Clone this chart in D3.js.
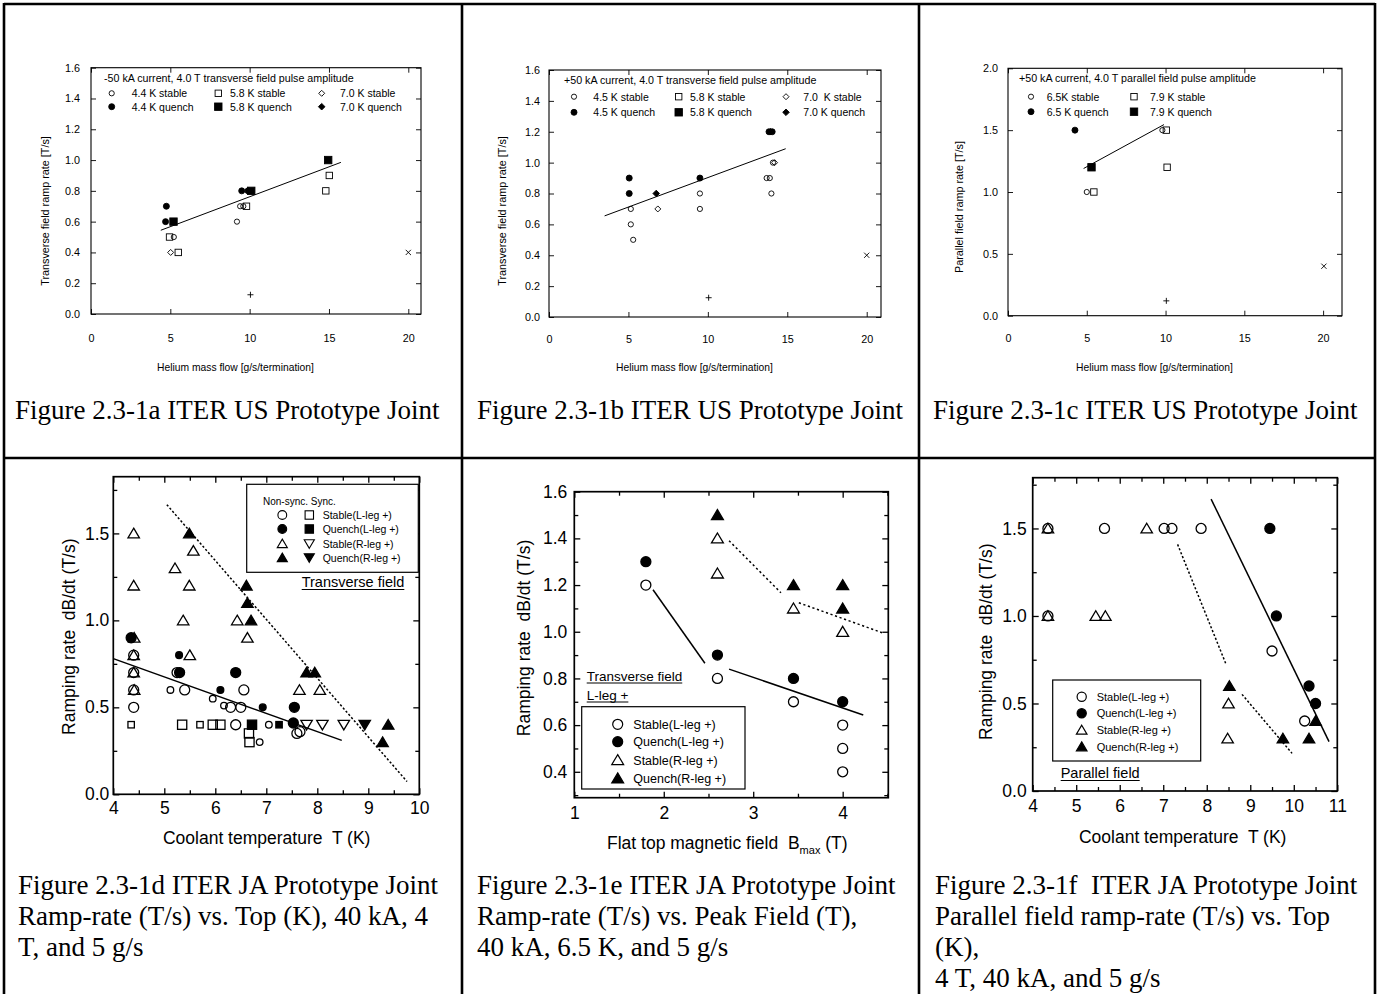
<!DOCTYPE html>
<html><head><meta charset="utf-8">
<script src="https://cdn.jsdelivr.net/npm/d3@7"></script>
<style>body{margin:0;background:#fff}svg{display:block}text{white-space:pre}</style>
</head><body>
<script>
// ================= DATA =================
// Panel a : ITER US, -50 kA, transverse
const aXTicks=[0,5,10,15,20];
const aYTicks=[0,0.2,0.4,0.6,0.8,1.0,1.2,1.4,1.6];
const aLegendTitle="-50 kA current, 4.0 T transverse field pulse amplitude";
const aLegendLabels=["4.4 K stable","5.8 K stable","7.0 K stable","4.4 K quench","5.8 K quench","7.0 K quench"];
const aStable44=[[5.22,0.5],[9.2,0.6],[9.4,0.7],[9.6,0.7]];
const aQuench44=[[4.75,0.7],[4.7,0.6],[9.5,0.8],[9.9,0.8]];
const aStable58=[[4.95,0.5],[5.5,0.4],[9.8,0.7],[14.8,0.8],[15.02,0.9]];
const aQuench58=[[5.2,0.6],[10.1,0.8],[14.95,1.0]];
const aStable70=[[5.02,0.4]];
const aQuench70=[];
const aFit=[[4.4,0.544],[15.75,0.985]];
const aPlus=[[10.05,0.125]];
const aCross=[[20,0.4]];

// Panel b : ITER US, +50 kA, transverse
const bXTicks=[0,5,10,15,20];
const bYTicks=[0,0.2,0.4,0.6,0.8,1.0,1.2,1.4,1.6];
const bLegendTitle="+50 kA current, 4.0 T transverse field pulse amplitude";
const bLegendLabels=["4.5 K stable","5.8 K stable","7.0  K stable","4.5 K quench","5.8 K quench","7.0 K quench"];
const bStable45=[[5.15,0.7],[5.15,0.6],[5.3,0.5],[9.5,0.8],[9.5,0.7],[13.7,0.9],[13.9,0.9],[14.0,0.8],[14.1,1.0]];
const bQuench45=[[5.05,0.9],[5.05,0.8],[9.5,0.9],[13.85,1.2],[14.05,1.2]];
const bStable70=[[6.85,0.7],[14.2,1.0]];
const bQuench70=[[6.75,0.8],[13.95,1.2]];
const bFit=[[3.5,0.655],[14.9,1.09]];
const bPlus=[[10.05,0.125]];
const bCross=[[20,0.4]];

// Panel c : ITER US, +50 kA, parallel
const cXTicks=[0,5,10,15,20];
const cYTicks=[0,0.5,1.0,1.5,2.0];
const cLegendTitle="+50 kA current, 4.0 T parallel field pulse amplitude";
const cLegendLabels=["6.5K stable","7.9 K stable","6.5 K quench","7.9 K quench"];
const cStable65=[[5.0,1.0],[9.8,1.5]];
const cQuench65=[[4.25,1.5]];
const cStable79=[[5.45,1.0],[10.05,1.5],[10.1,1.2]];
const cQuench79=[[5.3,1.2]];
const cFit=[[4.8,1.19],[9.9,1.545]];
const cPlus=[[10.05,0.12]];
const cCross=[[20.05,0.4]];

// Panel d : ITER JA, transverse, ramp rate vs coolant temperature
const dXTicks=[4,5,6,7,8,9,10];
const dXMinor=[4.5,5.5,6.5,7.5,8.5,9.5];
const dYTicks=[0,0.5,1.0,1.5];
const dYMinor=[0.25,0.75,1.25,1.75];
const dLegendHead="Non-sync. Sync.";
const dLegendLabels=["Stable(L-leg +)","Quench(L-leg +)","Stable(R-leg +)","Quench(R-leg +)"];
const dStableL=[[4.4,0.8],[4.4,0.7],[4.4,0.6],[4.4,0.5],[5.25,0.7],[5.4,0.6],[6.3,0.5],[6.5,0.5],[6.56,0.6],[6.4,0.4],[7.6,0.35],[7.66,0.36]];
const dStableLSmall=[[5.12,0.6],[5.95,0.55],[6.17,0.51],[7.05,0.4],[6.87,0.3]];
const dQuenchL=[[4.35,0.9],[5.3,0.7],[6.4,0.7],[7.55,0.5],[7.53,0.41]];
const dQuenchLSmall=[[5.29,0.8],[6.1,0.6],[6.93,0.5]];
const dStableLSync=[[5.35,0.4],[5.95,0.4],[6.1,0.4],[6.66,0.35],[6.67,0.3]];
const dStableLSyncSmall=[[4.35,0.4],[5.7,0.4]];
const dQuenchLSync=[[6.72,0.4]];
const dQuenchLSyncSmall=[[7.25,0.4]];
const dStableR=[[4.4,1.5],[4.4,1.2],[4.41,0.9],[4.4,0.8],[4.4,0.7],[4.41,0.6],[5.21,1.3],[5.57,1.4],[5.49,1.2],[5.37,1.0],[5.5,0.8],[6.43,1.0],[6.63,0.9],[7.65,0.6],[8.05,0.6]];
const dQuenchR=[[5.49,1.5],[6.61,1.2],[6.63,1.1],[6.7,1.0],[7.79,0.7],[7.95,0.7],[9.28,0.3],[9.39,0.4]];
const dStableRSync=[[7.79,0.4],[8.1,0.4],[8.52,0.4]];
const dQuenchRSync=[[8.93,0.4]];
const dFitSolid=[[4.0,0.78],[8.48,0.31]];
const dFitDotted=[[5.05,1.665],[9.76,0.073]];

// Panel e : ITER JA, ramp rate vs flat top field
const eXTicks=[1,2,3,4];
const eXMinor=[1.5,2.5,3.5,4.5];
const eYTicks=[0.4,0.6,0.8,1.0,1.2,1.4,1.6];
const eYMinor=[0.3,0.5,0.7,0.9,1.1,1.3,1.5];
const eLegendLabels=["Stable(L-leg +)","Quench(L-leg +)","Stable(R-leg +)","Quench(R-leg +)"];
const eStableL=[[1.8,1.2],[2.6,0.8],[3.45,0.7],[4.0,0.6],[4.0,0.5],[4.0,0.4]];
const eQuenchL=[[1.8,1.3],[2.6,0.9],[3.45,0.8],[4.0,0.7]];
const eStableR=[[2.6,1.4],[2.6,1.25],[3.45,1.1],[4.0,1.0]];
const eQuenchR=[[2.6,1.5],[3.45,1.2],[4.0,1.2],[4.0,1.1]];
const eSolid1=[[1.88,1.18],[2.46,0.865]];
const eSolid2=[[2.73,0.84],[4.23,0.643]];
const eDot1=[[2.73,1.39],[3.31,1.167]];
const eDot2=[[3.51,1.124],[4.44,0.996]];

// Panel f : ITER JA, parallel field, ramp rate vs coolant temperature
const fXTicks=[4,5,6,7,8,9,10,11];
const fXMinor=[4.5,5.5,6.5,7.5,8.5,9.5,10.5];
const fYTicks=[0,0.5,1.0,1.5];
const fYMinor=[0.25,0.75,1.25,1.75];
const fLegendLabels=["Stable(L-leg +)","Quench(L-leg +)","Stable(R-leg +)","Quench(R-leg +)"];
const fStableL=[[4.35,1.5],[4.35,1.0],[5.65,1.5],[7.02,1.5],[7.2,1.5],[7.87,1.5],[9.5,0.8],[10.25,0.4]];
const fQuenchL=[[9.45,1.5],[9.6,1.0],[10.35,0.6],[10.5,0.5]];
const fStableR=[[4.35,1.5],[4.35,1.0],[5.45,1.0],[5.67,1.0],[6.62,1.5],[8.5,0.5],[8.48,0.3]];
const fQuenchR=[[8.52,0.6],[9.75,0.3],[10.35,0.3],[10.5,0.4]];
const fSolid=[[8.1,1.668],[10.81,0.282]];
const fDot1=[[7.33,1.409],[8.45,0.72]];
const fDot2=[[8.81,0.552],[9.96,0.215]];

const captions={
  a:["Figure 2.3-1a ITER US Prototype Joint"],
  b:["Figure 2.3-1b ITER US Prototype Joint"],
  c:["Figure 2.3-1c ITER US Prototype Joint"],
  d:["Figure 2.3-1d ITER JA Prototype Joint","Ramp-rate (T/s) vs. Top (K), 40 kA, 4","T, and 5 g/s"],
  e:["Figure 2.3-1e ITER JA Prototype Joint","Ramp-rate (T/s) vs. Peak Field (T),","40 kA, 6.5 K, and 5 g/s"],
  f:["Figure 2.3-1f  ITER JA Prototype Joint","Parallel field ramp-rate (T/s) vs. Top","(K),","4 T, 40 kA, and 5 g/s"]
};

// ================= DRAWING =================
const W=1379,H=994;
const SANS="'Liberation Sans', Arial, sans-serif";
const SERIF="'Liberation Serif', 'Times New Roman', serif";
const svg=d3.select("body").append("svg").attr("width",W).attr("height",H);
svg.append("rect").attr("width",W).attr("height",H).attr("fill","#fff");

function marker(g,shape,filled,s,x,y,sw){
  let el;
  if(shape==="circle") el=g.append("circle").attr("cx",x).attr("cy",y).attr("r",s);
  else if(shape==="square") el=g.append("rect").attr("x",x-s).attr("y",y-s).attr("width",2*s).attr("height",2*s);
  else if(shape==="diamond") el=g.append("path").attr("d",`M${x},${y-s}L${x+s},${y}L${x},${y+s}L${x-s},${y}Z`);
  else if(shape==="tri") el=g.append("path").attr("d",`M${x},${y-s}L${x+s*1.1},${y+s*0.85}L${x-s*1.1},${y+s*0.85}Z`);
  else if(shape==="itri") el=g.append("path").attr("d",`M${x},${y+s}L${x+s*1.1},${y-s*0.85}L${x-s*1.1},${y-s*0.85}Z`);
  else if(shape==="plus") el=g.append("path").attr("d",`M${x-s},${y}H${x+s}M${x},${y-s}V${y+s}`);
  else if(shape==="cross") el=g.append("path").attr("d",`M${x-s},${y-s}L${x+s},${y+s}M${x-s},${y+s}L${x+s},${y-s}`);
  el.attr("fill",filled?"#000":"none").attr("stroke","#000").attr("stroke-width",sw);
  return el;
}
function series(g,x,y,data,shape,filled,s,sw){
  data.forEach(d=>marker(g,shape,filled,s,x(d[0]),y(d[1]),sw));
}
function fitLine(g,x,y,data,sw,dash){
  const l=d3.line().x(d=>x(d[0])).y(d=>y(d[1]));
  const p=g.append("path").attr("d",l(data)).attr("fill","none").attr("stroke","#000").attr("stroke-width",sw);
  if(dash) p.attr("stroke-dasharray",dash);
}
function axes(g,x,y,c){
  const [L,R]=x.range(); const [B,T]=y.range();
  const mk=(axis,tx,ty,vals,size,fmt,pad)=>{
    const a=axis.tickValues(vals).tickSize(-size).tickPadding(pad).tickFormat(fmt||(()=>""));
    const gg=g.append("g").attr("transform",`translate(${tx},${ty})`).call(a);
    gg.select(".domain").remove();
    gg.attr("font-family",SANS).attr("font-size",c.fs);
    gg.selectAll("line").attr("stroke","#000").attr("stroke-width",c.tsw);
    gg.selectAll("text").attr("fill","#000");
  };
  mk(d3.axisBottom(x),0,B,c.xMajor,c.tl,c.xFmt,c.padX);
  mk(d3.axisTop(x),0,T,c.xMajor,c.tl,null,0);
  mk(d3.axisLeft(y),L,0,c.yMajor,c.tl,c.yFmt,c.padY);
  mk(d3.axisRight(y),R,0,c.yMajor,c.tl,null,0);
  if(c.xMinor){mk(d3.axisBottom(x),0,B,c.xMinor,c.tlm,null,0);mk(d3.axisTop(x),0,T,c.xMinor,c.tlm,null,0);}
  if(c.yMinor){mk(d3.axisLeft(y),L,0,c.yMinor,c.tlm,null,0);mk(d3.axisRight(y),R,0,c.yMinor,c.tlm,null,0);}
  g.append("rect").attr("x",L).attr("y",T).attr("width",R-L).attr("height",B-T)
    .attr("fill","none").attr("stroke","#000").attr("stroke-width",c.fsw);
}
function txt(g,s,x,y,fs,opts={}){
  const t=g.append("text").attr("x",x).attr("y",y).attr("font-family",opts.font||SANS)
    .attr("font-size",fs).attr("fill","#000").text(s);
  if(opts.anchor) t.attr("text-anchor",opts.anchor);
  if(opts.rotate!=null) t.attr("transform",`rotate(${opts.rotate},${x},${y})`);
  return t;
}
function underlined(g,s,x,y,fs){
  const t=txt(g,s,x,y,fs);
  const w=t.node().getComputedTextLength();
  g.append("line").attr("x1",x).attr("x2",x+w).attr("y1",y+2.5).attr("y2",y+2.5).attr("stroke","#000").attr("stroke-width",1.1);
}

// ---------- top row (US) ----------
function usPanel(o){
  const g=svg.append("g");
  const x=d3.scaleLinear().domain(o.xd).range([o.L,o.R]);
  const y=d3.scaleLinear().domain(o.yd).range([o.B,o.T]);
  axes(g,x,y,{xMajor:o.xt,yMajor:o.yt,xFmt:d3.format("d"),yFmt:d3.format(".1f"),fs:10.8,tl:5,tsw:0.9,fsw:1.1,padX:o.padX,padY:o.padY});
  fitLine(g,x,y,o.fit,1,null);
  o.series.forEach(s=>series(g,x,y,s.data,s.shape,s.filled,s.size,0.9));
  series(g,x,y,o.plus,"plus",false,3,0.9);
  series(g,x,y,o.cross,"cross",false,2.6,0.9);
  // legend
  txt(g,o.legTitle,o.legTitleX,o.legTitleY,10.7);
  o.legItems.forEach((it,i)=>{
    const col=i%o.nCols,row=Math.floor(i/o.nCols);
    marker(g,it.shape,it.filled,it.size,o.legMX[col],o.legRY[row],0.9);
    txt(g,o.legLabels[i],o.legTX[col],o.legRY[row]+3.8,10.5);
  });
  txt(g,"Helium mass flow [g/s/termination]",(o.L+o.R)/2-20.5,o.xTitleY,10.3,{anchor:"middle"});
  txt(g,o.yTitle,o.yTitleX,o.yTitleY,10.8,{anchor:"middle",rotate:-90});
}
const S_OC={shape:"circle",filled:false,size:2.6},S_FC={shape:"circle",filled:true,size:3},
      S_OS={shape:"square",filled:false,size:3.2},S_FS={shape:"square",filled:true,size:3.7},
      S_OD={shape:"diamond",filled:false,size:3},S_FD={shape:"diamond",filled:true,size:3.3};
usPanel({L:91,R:421,T:67.7,B:314,xd:[0,20.8],yd:[0,1.6],xt:aXTicks,yt:aYTicks,padX:20,padY:11,
  fit:aFit,plus:aPlus,cross:aCross,
  series:[{data:aStable44,...S_OC},{data:aQuench44,...S_FC},{data:aStable58,...S_OS},{data:aQuench58,...S_FS},{data:aStable70,...S_OD},{data:aQuench70,...S_FD}],
  legTitle:aLegendTitle,legTitleX:104,legTitleY:82,nCols:3,
  legItems:[S_OC,S_OS,S_OD,S_FC,S_FS,S_FD],legLabels:aLegendLabels,
  legMX:[111.7,218.3,321.7],legTX:[131.7,230,340],legRY:[93.3,106.7],
  xTitleY:371,yTitle:"Transverse field ramp rate [T/s]",yTitleX:49,yTitleY:211});
usPanel({L:549,R:881,T:70,B:317,xd:[0,20.9],yd:[0,1.6],xt:bXTicks,yt:bYTicks,padX:18,padY:9,
  fit:bFit,plus:bPlus,cross:bCross,
  series:[{data:bStable45,...S_OC},{data:bQuench45,...S_FC},{data:bStable70,...S_OD},{data:bQuench70,...S_FD}],
  legTitle:bLegendTitle,legTitleX:564,legTitleY:84,nCols:3,
  legItems:[S_OC,S_OS,S_OD,S_FC,S_FS,S_FD],legLabels:bLegendLabels,
  legMX:[574,678.7,786],legTX:[593.3,690,803.3],legRY:[96.7,112.3],
  xTitleY:371,yTitle:"Transverse field ramp rate [T/s]",yTitleX:506,yTitleY:211});
usPanel({L:1008,R:1342,T:68.3,B:315.7,xd:[0,21.2],yd:[0,2.0],xt:cXTicks,yt:cYTicks,padX:19,padY:10,
  fit:cFit,plus:cPlus,cross:cCross,
  series:[{data:cStable65,...S_OC},{data:cQuench65,...S_FC},{data:cStable79,...S_OS},{data:cQuench79,...S_FS}],
  legTitle:cLegendTitle,legTitleX:1019,legTitleY:82,nCols:2,
  legItems:[S_OC,S_OS,S_FC,S_FS],legLabels:cLegendLabels,
  legMX:[1031,1134],legTX:[1046.7,1150],legRY:[96.7,111.7],
  xTitleY:371,yTitle:"Parallel field ramp rate [T/s]",yTitleX:963,yTitleY:207});

// ---------- bottom row (JA) ----------
const SW=1.3;
const JFS=17.5;
function jaPanel(o){
  const g=svg.append("g");
  const x=d3.scaleLinear().domain(o.xd).range([o.L,o.R]);
  const y=d3.scaleLinear().domain(o.yd).range([o.B,o.T]);
  axes(g,x,y,{xMajor:o.xt,xMinor:o.xm,yMajor:o.yt,yMinor:o.ym,xFmt:d3.format("d"),yFmt:d3.format(".1f"),
    fs:JFS,tl:6,tlm:4,tsw:1.3,fsw:1.7,padX:o.padX,padY:o.padY});
  o.lines.forEach(l=>fitLine(g,x,y,l.data,1.5,l.dash));
  o.series.forEach(s=>series(g,x,y,s.data,s.shape,s.filled,s.size,SW));
  return {g,x,y};
}
// d
{
  const {g}=jaPanel({L:113.3,R:419.3,T:476.7,B:794.3,xd:[4,10],yd:[0,1.826],xt:dXTicks,xm:dXMinor,yt:dYTicks,ym:dYMinor,padX:7,padY:4,
    lines:[{data:dFitSolid},{data:dFitDotted,dash:"2.2,2"}],
    series:[
      {data:dStableL,shape:"circle",filled:false,size:5},
      {data:dStableLSmall,shape:"circle",filled:false,size:3.3},
      {data:dQuenchL,shape:"circle",filled:true,size:5},
      {data:dQuenchLSmall,shape:"circle",filled:true,size:3.4},
      {data:dStableLSync,shape:"square",filled:false,size:4.6},
      {data:dStableLSyncSmall,shape:"square",filled:false,size:3.2},
      {data:dQuenchLSync,shape:"square",filled:true,size:4.6},
      {data:dQuenchLSyncSmall,shape:"square",filled:true,size:3.2},
      {data:dStableR,shape:"tri",filled:false,size:5.2},
      {data:dQuenchR,shape:"tri",filled:true,size:5.2},
      {data:dStableRSync,shape:"itri",filled:false,size:5.2},
      {data:dQuenchRSync,shape:"itri",filled:true,size:5.2}]});
  g.append("rect").attr("x",246.7).attr("y",484.3).attr("width",171.6).attr("height",88).attr("fill","#fff").attr("stroke","#000").attr("stroke-width",1.2);
  txt(g,dLegendHead,263,504.5,10);
  const rows=[515,529,543.7,557.7];
  const c1=[["circle",false],["circle",true],["tri",false],["tri",true]];
  const c2=[["square",false],["square",true],["itri",false],["itri",true]];
  rows.forEach((ry,i)=>{
    marker(g,c1[i][0],c1[i][1],c1[i][0]==="circle"?4.4:4.6,282.3,ry,1.1);
    marker(g,c2[i][0],c2[i][1],c2[i][0]==="square"?4.2:4.6,309.3,ry,1.1);
    txt(g,dLegendLabels[i],322.7,ry+3.8,10.5);
  });
  underlined(g,"Transverse field",301.7,587,14.5);
  txt(g,"Ramping rate  dB/dt (T/s)",75,636.7,JFS,{anchor:"middle",rotate:-90});
  txt(g,"Coolant temperature  T (K)",266.7,844,JFS,{anchor:"middle"});
}
// e
{
  const {g}=jaPanel({L:574.3,R:888.3,T:491.7,B:797.7,xd:[1,4.51],yd:[0.289,1.6],xt:eXTicks,xm:eXMinor,yt:eYTicks,ym:eYMinor,padX:9,padY:7,
    lines:[{data:eSolid1},{data:eSolid2},{data:eDot1,dash:"2.2,2.6"},{data:eDot2,dash:"2.2,2.6"}],
    series:[
      {data:eStableL,shape:"circle",filled:false,size:5},
      {data:eQuenchL,shape:"circle",filled:true,size:5},
      {data:eStableR,shape:"tri",filled:false,size:5.4},
      {data:eQuenchR,shape:"tri",filled:true,size:5.4}]});
  underlined(g,"Transverse field",586.7,680.5,13.5);
  underlined(g,"L-leg +",586.7,699.5,13.5);
  g.append("rect").attr("x",581.7).attr("y",706.7).attr("width",163.3).attr("height",82.3).attr("fill","none").attr("stroke","#000").attr("stroke-width",1.2);
  const rows=[724.3,741.7,760,778.3];
  const sh=[["circle",false],["circle",true],["tri",false],["tri",true]];
  rows.forEach((ry,i)=>{
    marker(g,sh[i][0],sh[i][1],sh[i][0]==="circle"?5:5.4,617.7,ry,1.2);
    txt(g,eLegendLabels[i],633.3,ry+4.5,12.5);
  });
  txt(g,"Ramping rate  dB/dt (T/s)",530,638,JFS,{anchor:"middle",rotate:-90});
  const t=txt(g,"Flat top magnetic field  B",607,849,JFS);
  t.append("tspan").attr("font-size",11).attr("dy",4.5).text("max");
  t.append("tspan").attr("dy",-4.5).text(" (T)");
}
// f
{
  const {g}=jaPanel({L:1032.7,R:1337.3,T:477.7,B:791,xd:[4,11],yd:[0,1.79],xt:fXTicks,xm:fXMinor,yt:fYTicks,ym:fYMinor,padX:9,padY:6,
    lines:[{data:fSolid},{data:fDot1,dash:"2.2,2"},{data:fDot2,dash:"2.2,2"}],
    series:[
      {data:fStableL,shape:"circle",filled:false,size:5},
      {data:fQuenchL,shape:"circle",filled:true,size:5},
      {data:fStableR,shape:"tri",filled:false,size:5.2},
      {data:fQuenchR,shape:"tri",filled:true,size:5.2}]});
  g.append("rect").attr("x",1052.7).attr("y",680).attr("width",148).attr("height",81).attr("fill","none").attr("stroke","#000").attr("stroke-width",1.2);
  const rows=[696.7,713.3,730,746.7];
  const sh=[["circle",false],["circle",true],["tri",false],["tri",true]];
  rows.forEach((ry,i)=>{
    marker(g,sh[i][0],sh[i][1],sh[i][0]==="circle"?4.6:4.8,1081.7,ry,1.2);
    txt(g,fLegendLabels[i],1096.7,ry+4,11);
  });
  underlined(g,"Parallel field",1060.7,778,14.5);
  txt(g,"Ramping rate  dB/dt (T/s)",992,641.7,JFS,{anchor:"middle",rotate:-90});
  txt(g,"Coolant temperature  T (K)",1182.7,843,JFS,{anchor:"middle"});
}

// ---------- captions ----------
const capX={a:15,b:477,c:933,d:18,e:477,f:935};
["a","b","c"].forEach(k=>captions[k].forEach((s,i)=>txt(svg,s,capX[k],419+31*i,27,{font:SERIF})));
["d","e","f"].forEach(k=>captions[k].forEach((s,i)=>txt(svg,s,capX[k],894+31*i,27,{font:SERIF})));

// ---------- table borders ----------
const bw=2.6;
[[4,4,1375,4],[4,458,1375,458],[4,3,4,994],[462,3,462,994],[919,3,919,994],[1375,3,1375,994]].forEach(l=>
  svg.append("line").attr("x1",l[0]).attr("y1",l[1]).attr("x2",l[2]).attr("y2",l[3]).attr("stroke","#000").attr("stroke-width",bw));
</script>
</body></html>
